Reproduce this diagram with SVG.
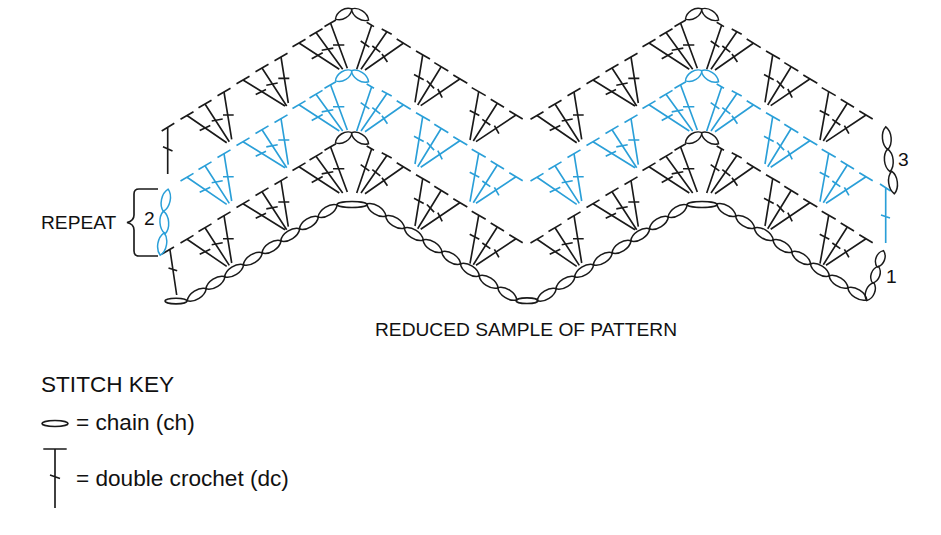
<svg xmlns="http://www.w3.org/2000/svg" xmlns:xlink="http://www.w3.org/1999/xlink" width="941" height="535" viewBox="0 0 941 535">
<style>
.k{stroke:#1a1a1a;fill:none;stroke-width:1.65}
.b{stroke:#2a9fd8;fill:none;stroke-width:1.65}
.t{font-family:"Liberation Sans",Arial,sans-serif;fill:#111}
.s{font-size:19.2px}
.m{font-size:22.6px}
#l{stroke-width:1.5}
</style>
<defs>
<path id="l" d="M-11.4,0C-6,-5.8 6,-5.8 11.4,0C6,5.8 -6,5.8 -11.4,0Z"/>
<g id="unit">
<path d="M180.5,119.3L193.5,111.7M198.5,107.8L211.5,100.2M217.5,95.8L230.5,88.2M236.5,83.8L249.5,76.2M255.5,71.8L268.5,64.2M274.5,60.8L287.5,53.2M292.5,46.8L305.5,39.2M309.5,36.3L322.5,28.7M324.5,26.5L336,20"/>
<path d="M187,115.5L226.7,142.7M205,104L229.3,141.7M224,92L231.7,139.3M243,80L285,106M262,68L286.7,106M281,57L288.3,103M299,43L339.3,69.3M316,32.5L342.7,69.3M330.5,23L347.3,68.3"/>
<path d="M199.7,130.5L210.3,125.5M211.7,121L222.7,119M223,115L233.7,115M255.7,94.5L266,89.5M266.3,85.2L277.7,83M278.3,78.3L289.3,78.3M311.7,58.8L322.7,52.8M321.7,50.2L333.3,48.1M333,45L344.3,45"/>
<path d="M366.7,22.3L374,26.6M381.7,29L391.7,34.3M396.7,39L410.7,47.6M416,51L430,59M434.3,62.6L448.3,71M453.3,75L467.3,83.3M471.7,87.6L485.7,95.6M490.7,99.3L504,107.3M509.3,111L522.7,119"/>
<path d="M371.7,25L356.7,69.3M386.7,32L361,69.3M403.3,43.3L365,70M422.7,55L415,102.3M441,67L417.7,105M459.8,79L420.7,105.6M478.7,91.6L470,140M497.3,103.3L473.3,141M516,115L476,141.6"/>
<path d="M360.7,41L369.3,47.2M372.3,46L380.3,52.2M382,54L387.4,62M414,74.5L423.7,79.8M426.9,80.8L434.1,88.4M437.8,89L442.2,97.6M469.7,110.5L479.3,115.5M482.3,119.3L490.3,125M494.4,125.6L498.9,133.6"/>
<use xlink:href="#l" href="#l" transform="translate(343.7,14) rotate(-32) scale(.85,1)"/>
<use xlink:href="#l" href="#l" transform="translate(360,14.5) rotate(33) scale(.9,1)"/>
</g>
<g id="row">
<use xlink:href="#unit" href="#unit"/>
<use xlink:href="#unit" href="#unit" x="350"/>
</g>
<g id="zig">
<use xlink:href="#l" href="#l" transform="translate(196.7,294.7) rotate(-32.6)"/>
<use xlink:href="#l" href="#l" transform="translate(215.4,282.7) rotate(-32.6)"/>
<use xlink:href="#l" href="#l" transform="translate(234.1,270.8) rotate(-32.6)"/>
<use xlink:href="#l" href="#l" transform="translate(252.8,258.8) rotate(-32.6)"/>
<use xlink:href="#l" href="#l" transform="translate(271.5,246.9) rotate(-32.6)"/>
<use xlink:href="#l" href="#l" transform="translate(290.2,234.9) rotate(-32.6)"/>
<use xlink:href="#l" href="#l" transform="translate(308.9,222.9) rotate(-32.6)"/>
<use xlink:href="#l" href="#l" transform="translate(327.6,211) rotate(-32.6)"/>
<ellipse cx="352" cy="204.5" rx="15" ry="3"/>
<use xlink:href="#l" href="#l" transform="translate(376.4,210) rotate(32.8)"/>
<use xlink:href="#l" href="#l" transform="translate(395.1,222) rotate(32.8)"/>
<use xlink:href="#l" href="#l" transform="translate(413.8,234) rotate(32.8)"/>
<use xlink:href="#l" href="#l" transform="translate(432.5,246) rotate(32.8)"/>
<use xlink:href="#l" href="#l" transform="translate(451.2,257.9) rotate(32.8)"/>
<use xlink:href="#l" href="#l" transform="translate(469.9,269.9) rotate(32.8)"/>
<use xlink:href="#l" href="#l" transform="translate(488.6,281.8) rotate(32.8)"/>
<use xlink:href="#l" href="#l" transform="translate(507.3,293.8) rotate(32.8)"/>
</g>
</defs>

<g id="foundation-chain" class="k">
<ellipse cx="176" cy="301" rx="11" ry="2.8"/>
<use xlink:href="#zig" href="#zig"/>
<ellipse cx="527" cy="300.7" rx="11" ry="2.8"/>
<use xlink:href="#zig" href="#zig" x="350"/>
</g>

<g id="row-1" class="k">
<use xlink:href="#row" href="#row" y="123.7"/>
<path d="M162,254L174,247M170,250L176.7,295M168.5,268L177.2,270.7"/>
</g>

<g id="row-2" class="b">
<use xlink:href="#row" href="#row" y="61.7"/>
<path d="M880,184L890.7,191M885.7,188V243M881,215L890,218"/>
</g>

<g id="row-3" class="k">
<use xlink:href="#row" href="#row"/>
<path d="M161.7,131L174.3,123.3M167.7,128V174M163,146.7L172.5,151"/>
</g>

<g id="turning-chains">
<g class="b">
<use xlink:href="#l" href="#l" transform="translate(165.8,200.3) rotate(102)"/>
<use xlink:href="#l" href="#l" transform="translate(164.3,222.5) rotate(86)"/>
<use xlink:href="#l" href="#l" transform="translate(162.2,244) rotate(100)"/>
</g>
<g class="k">
<use xlink:href="#l" href="#l" transform="translate(886.8,138.2) rotate(85)"/>
<use xlink:href="#l" href="#l" transform="translate(888.8,160.3) rotate(84)"/>
<use xlink:href="#l" href="#l" transform="translate(893,182.5) rotate(83)"/>
<use xlink:href="#l" href="#l" transform="translate(880.3,258.8) rotate(111) scale(.78,1)"/>
<use xlink:href="#l" href="#l" transform="translate(875.5,274.7) rotate(109) scale(.78,1)"/>
<use xlink:href="#l" href="#l" transform="translate(870.3,291.7) rotate(112) scale(.85,1)"/>
</g>
</g>

<g id="repeat-brace">
<path class="k" d="M158,189H139Q134,189 134,194V215Q134,221 127,222.5Q134,224 134,230V251Q134,256 139,256H158"/>
<text class="t s" x="41" y="229">REPEAT</text>
<text class="t s" x="144" y="225">2</text>
</g>
<text class="t s" x="898" y="166">3</text>
<text class="t s" x="886" y="283">1</text>
<text class="t s" x="375" y="336">REDUCED SAMPLE OF PATTERN</text>

<g id="stitch-key">
<text class="t m" x="41" y="392">STITCH KEY</text>
<g id="key-chain">
<ellipse class="k" cx="55" cy="423.5" rx="13" ry="3"/>
<text class="t m" x="76" y="430">= chain (ch)</text>
</g>
<g id="key-dc">
<path class="k" d="M43.3,449H66.7M55,449V508M50,475L60,478.5"/>
<text class="t m" x="76" y="486">= double crochet (dc)</text>
</g>
</g>
</svg>
